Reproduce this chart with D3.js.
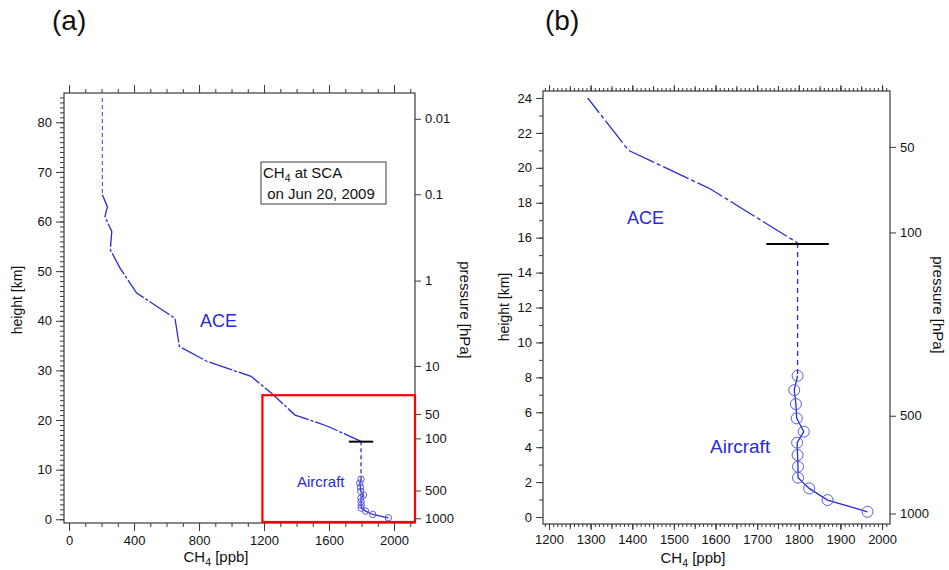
<!DOCTYPE html>
<html>
<head>
<meta charset="utf-8">
<script src="https://cdn.jsdelivr.net/npm/d3@7"></script>
<style>
  html, body { margin: 0; padding: 0; background: #fff; }
  svg { display: block; font-family: "Liberation Sans", Arial, sans-serif; }
</style>
</head>
<body>
<svg id="chart" width="949" height="570"></svg>
<script>
// ACE occultation profile of CH4 (ppb vs km); upper part drawn dashed
const aceUpperPpb = [205, 205];
const aceUpperKm  = [84.9, 65.4];
const acePpb = [205, 236, 221, 263, 254, 314, 416, 652, 679, 850, 1120, 1257, 1391, 1587, 1797];
const aceKm  = [65.4, 63.0, 61.0, 58.0, 54.3, 50.6, 45.6, 40.5, 34.8, 31.8, 28.8, 25.1, 21.0, 18.8, 15.7];

// Aircraft profile (circles joined by a line)
const airPpb = [1797, 1789, 1793, 1795, 1812, 1796, 1797, 1798, 1798, 1825, 1869, 1965];
const airKm  = [8.09, 7.27, 6.47, 5.65, 4.89, 4.26, 3.55, 2.88, 2.25, 1.64, 0.97, 0.30];

// Tropopause marker
const tropoKm = 15.64;
const tropoPpb = [1722, 1872];

// Pressure levels (hPa) and their heights (km) for the right-hand axis
const pressureLabels = ["0.01", "0.1", "1", "10", "50", "100", "500", "1000"];
const pressureKm     = [80.7, 65.5, 48.1, 30.9, 21.2, 16.3, 5.8, 0.2];

// Tick values
const xTicksA = [0, 400, 800, 1200, 1600, 2000];
const yTicksA = [0, 10, 20, 30, 40, 50, 60, 70, 80];
const xTicksB = [1200, 1300, 1400, 1500, 1600, 1700, 1800, 1900, 2000];
const yTicksB = [0, 2, 4, 6, 8, 10, 12, 14, 16, 18, 20, 22, 24];
const pressureShownB = ["50", "100", "500", "1000"];

// Region of panel (a) that panel (b) enlarges
const zoomPpbFrom = 1190;
const zoomKmTo = 25;

const BLUE = "#2a2ad6";
const FRAME = "#3a3a3a";
const FONT = "'Liberation Sans', Arial, sans-serif";

const svg = d3.select("#chart");

function ch4Label(sel) {
  sel.append("tspan").text("CH");
  sel.append("tspan").attr("font-size", "70%").attr("dy", 4).text("4");
  sel.append("tspan").attr("dy", -4).text(" [ppb]");
}

function tickStyle(g) {
  g.select(".domain").remove();
  g.selectAll(".tick line").attr("stroke", FRAME);
  g.selectAll(".tick text").attr("fill", "#111").attr("font-family", FONT);
}

function drawPanel(o) {
  const g = svg.append("g");
  const x = d3.scaleLinear().domain(o.xDomain).range([o.left, o.right]);
  const y = d3.scaleLinear().domain(o.yDomain).range([o.bottom, o.top]);

  const clipId = "clip-" + o.name;
  g.append("clipPath").attr("id", clipId)
    .append("rect")
    .attr("x", o.left).attr("y", y(o.clipKm))
    .attr("width", o.right - o.left).attr("height", o.bottom - y(o.clipKm));

  // bottom axis: minor then major ticks
  g.append("g").attr("transform", `translate(0,${o.bottom})`)
    .call(d3.axisBottom(x).tickValues(o.xMinor).tickSize(o.minorLen).tickFormat(""))
    .call(tickStyle);
  if (o.xMid) {
    g.append("g").attr("transform", `translate(0,${o.bottom})`)
      .call(d3.axisBottom(x).tickValues(o.xMid).tickSize(o.midLen).tickFormat(""))
      .call(tickStyle);
  }
  g.append("g").attr("transform", `translate(0,${o.bottom})`)
    .call(d3.axisBottom(x).tickValues(o.xTicks).tickSize(o.majorLen).tickPadding(o.xPad).tickFormat(d3.format("d")))
    .call(tickStyle)
    .selectAll("text").attr("font-size", o.tickFont);

  // top axis: ticks only
  g.append("g").attr("transform", `translate(0,${o.top})`)
    .call(d3.axisTop(x).tickValues(o.xMinor).tickSize(o.minorLen).tickFormat(""))
    .call(tickStyle);
  if (o.xMid) {
    g.append("g").attr("transform", `translate(0,${o.top})`)
      .call(d3.axisTop(x).tickValues(o.xMid).tickSize(o.midLen).tickFormat(""))
      .call(tickStyle);
  }
  g.append("g").attr("transform", `translate(0,${o.top})`)
    .call(d3.axisTop(x).tickValues(o.xTicks).tickSize(o.majorLen).tickFormat(""))
    .call(tickStyle);

  // left axis
  g.append("g").attr("transform", `translate(${o.left},0)`)
    .call(d3.axisLeft(y).tickValues(o.yMinor).tickSize(o.yMinorLen).tickFormat(""))
    .call(tickStyle);
  g.append("g").attr("transform", `translate(${o.left},0)`)
    .call(d3.axisLeft(y).tickValues(o.yTicks).tickSize(o.yMajorLen).tickPadding(4).tickFormat(d3.format("d")))
    .call(tickStyle)
    .selectAll("text").attr("font-size", o.tickFont);

  // right axis: pressure
  const pIdx = pressureLabels.map((p, i) => i).filter(i => o.pressureShown.includes(pressureLabels[i]));
  g.append("g").attr("transform", `translate(${o.right},0)`)
    .call(d3.axisRight(y).tickValues(pIdx.map(i => pressureKm[i])).tickSize(6).tickPadding(4)
      .tickFormat((d, i) => pressureLabels[pIdx[i]]))
    .call(tickStyle)
    .selectAll("text").attr("font-size", o.tickFont);

  // frame
  g.append("rect")
    .attr("x", o.left).attr("y", o.top)
    .attr("width", o.right - o.left).attr("height", o.bottom - o.top)
    .attr("fill", "none").attr("stroke", FRAME).attr("stroke-width", 1.2);

  const line = d3.line().x(d => x(d[0])).y(d => y(d[1]));
  const plot = g.append("g").attr("clip-path", `url(#${clipId})`);

  // ACE upper dashed part
  plot.append("path")
    .datum(aceUpperPpb.map((v, i) => [v, aceUpperKm[i]]))
    .attr("d", line).attr("fill", "none")
    .attr("stroke", "#4a4ae8").attr("stroke-width", 1.1)
    .attr("stroke-dasharray", "4,3");

  // ACE main profile (long dash - dot)
  plot.append("path")
    .datum(acePpb.map((v, i) => [v, aceKm[i]]))
    .attr("d", line).attr("fill", "none")
    .attr("stroke", BLUE).attr("stroke-width", 1.3)
    .attr("stroke-dasharray", o.aceDash);

  // connector between ACE and aircraft
  plot.append("path")
    .datum([[acePpb[acePpb.length - 1], aceKm[aceKm.length - 1]], [airPpb[0], airKm[0]]])
    .attr("d", line).attr("fill", "none")
    .attr("stroke", BLUE).attr("stroke-width", 1.3)
    .attr("stroke-dasharray", o.connDash);

  // tropopause marker
  g.append("line")
    .attr("x1", x(tropoPpb[0])).attr("x2", x(tropoPpb[1]))
    .attr("y1", y(tropoKm)).attr("y2", y(tropoKm))
    .attr("stroke", "#000").attr("stroke-width", 2);

  // aircraft profile
  const air = airPpb.map((v, i) => [v, airKm[i]]);
  plot.append("path").datum(air)
    .attr("d", line).attr("fill", "none")
    .attr("stroke", BLUE).attr("stroke-width", 1.3);
  plot.selectAll("circle.air").data(air).join("circle")
    .attr("class", "air")
    .attr("cx", d => x(d[0])).attr("cy", d => y(d[1]))
    .attr("r", o.circleR)
    .attr("fill", "none").attr("stroke", "#5a5ae6").attr("stroke-width", 1);

  // series labels
  g.append("text").attr("x", o.aceLabel[0]).attr("y", o.aceLabel[1])
    .attr("fill", BLUE).attr("font-size", o.aceFont).text("ACE");
  g.append("text").attr("x", o.airLabel[0]).attr("y", o.airLabel[1])
    .attr("fill", BLUE).attr("font-size", o.airFont).text("Aircraft");

  // axis titles
  g.append("text").attr("x", o.xTitle[0]).attr("y", o.xTitle[1])
    .attr("text-anchor", "middle").attr("font-size", 15).attr("fill", "#111")
    .call(ch4Label);
  g.append("text")
    .attr("transform", `translate(${o.yTitle[0]},${o.yTitle[1]}) rotate(-90)`)
    .attr("text-anchor", "middle").attr("font-size", 14).attr("fill", "#111")
    .text("height [km]");
  g.append("text")
    .attr("transform", `translate(${o.pTitle[0]},${o.pTitle[1]}) rotate(90)`)
    .attr("text-anchor", "middle").attr("font-size", 15).attr("fill", "#111")
    .text("pressure [hPa]");

  // panel letter
  svg.append("text").attr("x", o.letter[0]).attr("y", o.letter[1])
    .attr("font-size", 28).attr("fill", "#111").text(o.name === "a" ? "(a)" : "(b)");

  return { x, y, g };
}

// Panel (a): full profile
const A = drawPanel({
  name: "a",
  left: 64, right: 415, top: 93, bottom: 523,
  xDomain: [-31, 2129], yDomain: [-0.75, 85.9], clipKm: 85.9,
  xTicks: xTicksA, xMinor: d3.range(0, 2101, 100), xMid: null,
  yTicks: yTicksA, yMinor: d3.range(0, 86, 1),
  minorLen: 4, midLen: 4, majorLen: 8, yMinorLen: 4, yMajorLen: 8,
  xPad: 5, tickFont: 13,
  pressureShown: pressureLabels,
  aceDash: "24,2,3,2", connDash: "4,3",
  circleR: 3.2,
  aceLabel: [200, 327], aceFont: 18,
  airLabel: [297, 487], airFont: 15,
  xTitle: [216, 562], yTitle: [22, 300], pTitle: [460, 310],
  letter: [52, 30]
});

// legend box
const lg = A.g.append("g");
lg.append("rect").attr("x", 261).attr("y", 162).attr("width", 125).attr("height", 42)
  .attr("fill", "#fff").attr("stroke", FRAME).attr("stroke-width", 1);
const l1 = lg.append("text").attr("x", 263).attr("y", 178).attr("font-size", 15).attr("fill", "#111");
l1.append("tspan").text("CH");
l1.append("tspan").attr("font-size", "70%").attr("dy", 4).text("4");
l1.append("tspan").attr("dy", -4).text(" at SCA");
lg.append("text").attr("x", 263).attr("y", 199).attr("font-size", 15).attr("fill", "#111")
  .attr("xml:space", "preserve").text(" on Jun 20, 2009");

// enlarged region outline
A.g.append("rect")
  .attr("x", A.x(zoomPpbFrom)).attr("y", A.y(zoomKmTo))
  .attr("width", 415 - A.x(zoomPpbFrom)).attr("height", 522 - A.y(zoomKmTo))
  .attr("fill", "none").attr("stroke", "#ff0000").attr("stroke-width", 2.2);

// Panel (b): troposphere / lower stratosphere
drawPanel({
  name: "b",
  left: 543, right: 890, top: 91, bottom: 524,
  xDomain: [1185.6, 2019], yDomain: [-0.4, 24.4], clipKm: 24,
  xTicks: xTicksB, xMinor: d3.range(1190, 2011, 10), xMid: d3.range(1200, 2001, 50),
  yTicks: yTicksB, yMinor: d3.range(0, 25, 1),
  minorLen: 3, midLen: 5, majorLen: 6, yMinorLen: 4, yMajorLen: 7,
  xPad: 5, tickFont: 13,
  pressureShown: pressureShownB,
  aceDash: "28,3,4,3", connDash: "5,4",
  circleR: 5.5,
  aceLabel: [627, 224], aceFont: 18,
  airLabel: [710, 453], airFont: 19,
  xTitle: [693, 563], yTitle: [509, 307], pTitle: [933, 305],
  letter: [545, 30]
});
</script>
</body>
</html>
